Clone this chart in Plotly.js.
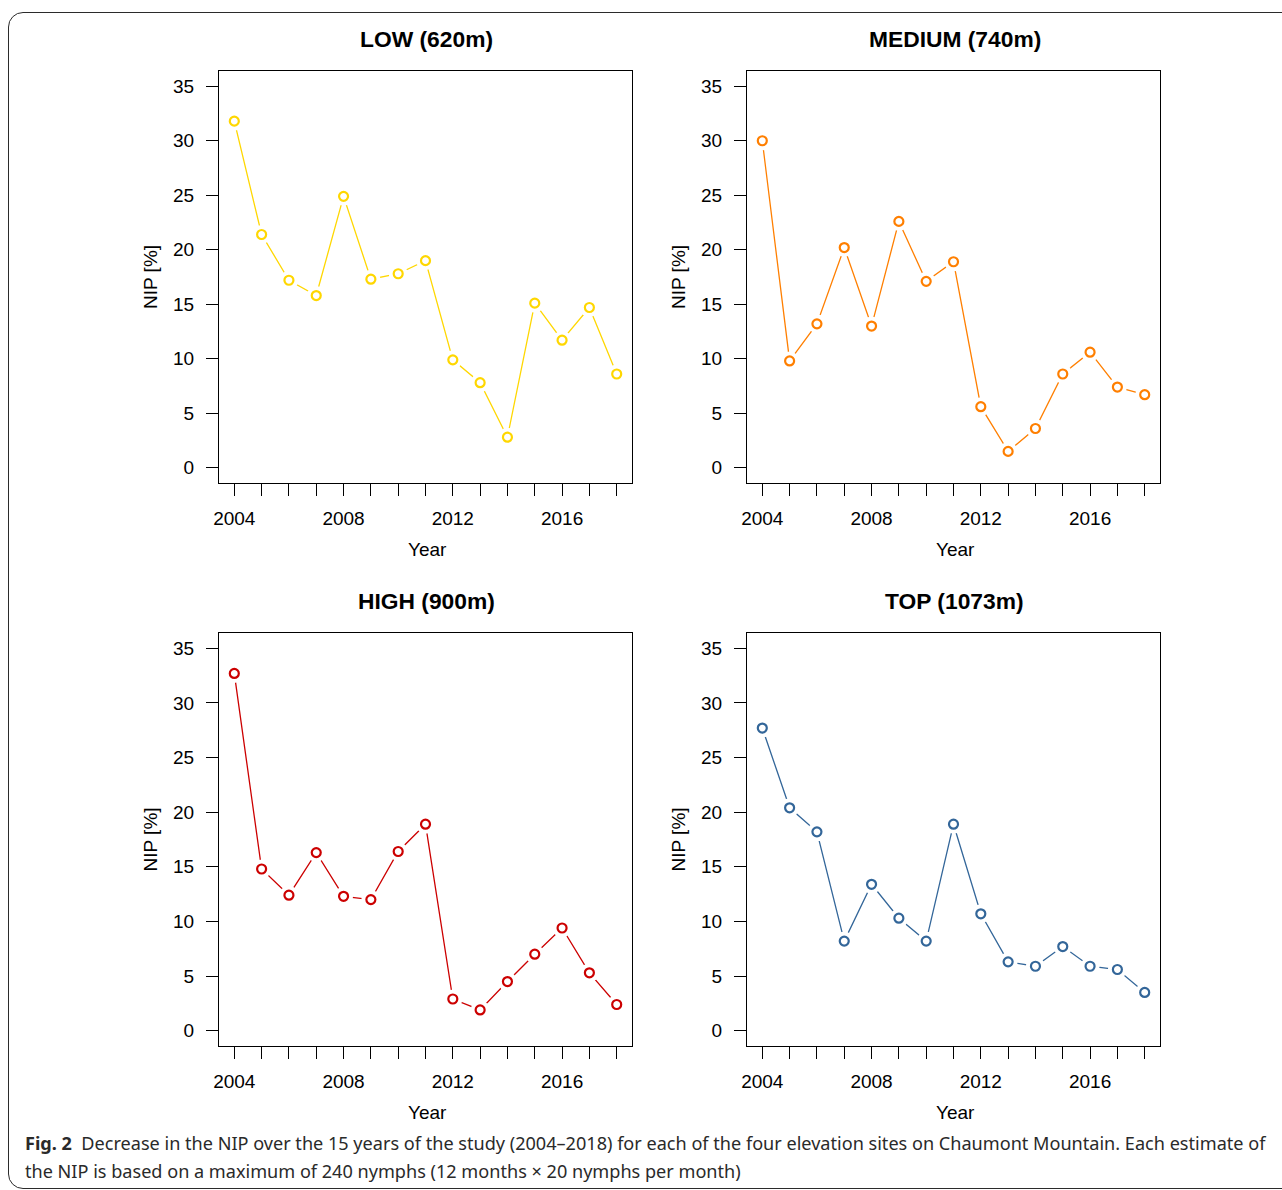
<!DOCTYPE html>
<html>
<head>
<meta charset="utf-8">
<script src="https://cdn.plot.ly/plotly-3.0.1.min.js"></script>
<style>
  html, body { margin: 0; padding: 0; background: #ffffff; }
  #wrap { position: relative; width: 1282px; height: 1190px; overflow: hidden; }
  #frame { position: absolute; left: 8px; top: 12px; width: 1400px; height: 1175px;
           border: 1px solid #2b2b2b; border-radius: 15px; pointer-events: none; }
  #chart { position: absolute; left: 0; top: 0; width: 1282px; height: 1190px; }
</style>
</head>
<body>
<div id="wrap">
  <div id="chart"></div>
  <div id="frame"></div>
</div>
<script>
// ---- data ----
const years = [2004, 2005, 2006, 2007, 2008, 2009, 2010, 2011, 2012, 2013, 2014, 2015, 2016, 2017, 2018];
const lowNIP    = [31.8, 21.4, 17.2, 15.8, 24.9, 17.3, 17.8, 19.0, 9.9, 7.8, 2.8, 15.1, 11.7, 14.7, 8.6];
const mediumNIP = [30.0, 9.8, 13.2, 20.2, 13.0, 22.6, 17.1, 18.9, 5.6, 1.5, 3.6, 8.6, 10.6, 7.4, 6.7];
const highNIP   = [32.7, 14.8, 12.4, 16.3, 12.3, 12.0, 16.4, 18.9, 2.9, 1.9, 4.5, 7.0, 9.4, 5.3, 2.4];
const topNIP    = [27.7, 20.4, 18.2, 8.2, 13.4, 10.3, 8.2, 18.9, 10.7, 6.3, 5.9, 7.7, 5.9, 5.6, 3.5];

const panelTitles = ["LOW (620m)", "MEDIUM (740m)", "HIGH (900m)", "TOP (1073m)"];
const panelColors = ["#FFD700", "#FF7F00", "#CC0000", "#336699"];
const xTickVals = years;
const xTickText = ["2004", "", "", "", "2008", "", "", "", "2012", "", "", "", "2016", "", ""];
const yTickVals = [0, 5, 10, 15, 20, 25, 30, 35];
const yTickText = ["0", "5", "10", "15", "20", "25", "30", "35"];
const xTitle = "Year";
const yTitle = "NIP [%]";
const captionLine1 = "<b>Fig. 2</b>  Decrease in the NIP over the 15 years of the study (2004–2018) for each of the four elevation sites on Chaumont Mountain. Each estimate of";
const captionLine2 = "the NIP is based on a maximum of 240 nymphs (12 months × 20 nymphs per month)";

const series = [lowNIP, mediumNIP, highNIP, topNIP];

// ---- layout geometry (pixels -> paper) ----
const W = 1282, H = 1190;
const px = v => v / W;
const py = v => 1 - v / H;
const colX = [[219, 632], [747, 1160]];
const rowY = [[71, 483], [633, 1046]];

const FONT = "Liberation Sans, Arial, sans-serif";
const traces = [];
const layout = {
  width: W, height: H,
  margin: {l: 0, r: 0, t: 0, b: 0},
  paper_bgcolor: "rgba(0,0,0,0)",
  plot_bgcolor: "#ffffff",
  showlegend: false,
  font: {family: FONT, color: "#000000", size: 19},
  annotations: [],
};

for (let i = 0; i < 4; i++) {
  const c = i % 2, r = Math.floor(i / 2);
  const n = i + 1;
  const xa = "x" + (n === 1 ? "" : n), ya = "y" + (n === 1 ? "" : n);
  const xk = "xaxis" + (n === 1 ? "" : n), yk = "yaxis" + (n === 1 ? "" : n);

  // line
  traces.push({x: years, y: series[i], xaxis: xa, yaxis: ya, type: "scatter", mode: "lines",
    line: {color: panelColors[i], width: 1.3}, hoverinfo: "skip"});
  // white gap around points (type="b" look)
  traces.push({x: years, y: series[i], xaxis: xa, yaxis: ya, type: "scatter", mode: "markers",
    marker: {symbol: "circle", size: 19, color: "#ffffff", line: {width: 0}}, hoverinfo: "skip"});
  // open circles
  traces.push({x: years, y: series[i], xaxis: xa, yaxis: ya, type: "scatter", mode: "markers",
    marker: {symbol: "circle-open", size: 9, color: panelColors[i], line: {width: 2.2, color: panelColors[i]}}});

  layout[xk] = {
    domain: [px(colX[c][0]), px(colX[c][1])],
    anchor: ya,
    range: [2003.44, 2018.56],
    tickmode: "array", tickvals: xTickVals, ticktext: xTickText,
    ticks: "outside", ticklen: 12, tickwidth: 1, tickcolor: "#000000",
    showline: true, mirror: true, linecolor: "#000000", linewidth: 1,
    showgrid: false, zeroline: false,
    tickfont: {family: FONT, size: 19, color: "#000000"},
    ticklabelstandoff: 6,
    fixedrange: true
  };
  layout[yk] = {
    domain: [py(rowY[r][1]), py(rowY[r][0])],
    anchor: xa,
    range: [-1.4, 36.4],
    tickmode: "array", tickvals: yTickVals, ticktext: yTickText,
    ticks: "outside", ticklen: 12, tickwidth: 1, tickcolor: "#000000",
    showline: true, mirror: true, linecolor: "#000000", linewidth: 1,
    showgrid: false, zeroline: false,
    tickfont: {family: FONT, size: 19, color: "#000000"},
    ticklabelstandoff: 8,
    fixedrange: true
  };

  const cx = (colX[c][0] + colX[c][1]) / 2;
  // panel title
  layout.annotations.push({text: "<b>" + panelTitles[i] + "</b>", xref: "paper", yref: "paper",
    x: px(cx + 1), y: py(rowY[r][0] - 32), xanchor: "center", yanchor: "middle", showarrow: false,
    font: {family: FONT, size: 22.8, color: "#000000"}});
  // x title
  layout.annotations.push({text: xTitle, xref: "paper", yref: "paper",
    x: px(cx + 2), y: py(rowY[r][1] + 66), xanchor: "center", yanchor: "middle", showarrow: false,
    font: {family: FONT, size: 19, color: "#000000"}});
  // y title
  layout.annotations.push({text: yTitle, xref: "paper", yref: "paper",
    x: px(colX[c][0] - 69), y: py((rowY[r][0] + rowY[r][1]) / 2), xanchor: "center", yanchor: "middle",
    textangle: -90, showarrow: false,
    font: {family: FONT, size: 19, color: "#000000"}});
}

// caption
const CAPFONT = "Noto Sans, Open Sans, sans-serif";
layout.annotations.push({text: captionLine1, xref: "paper", yref: "paper", x: px(23), y: py(1143),
  xanchor: "left", yanchor: "middle", align: "left", showarrow: false,
  font: {family: CAPFONT, size: 18.1, color: "#2a2a2a"}});
layout.annotations.push({text: captionLine2, xref: "paper", yref: "paper", x: px(23), y: py(1171),
  xanchor: "left", yanchor: "middle", align: "left", showarrow: false,
  font: {family: CAPFONT, size: 18.1, color: "#2a2a2a"}});

Plotly.newPlot("chart", traces, layout, {staticPlot: true, displayModeBar: false});
</script>
</body>
</html>
